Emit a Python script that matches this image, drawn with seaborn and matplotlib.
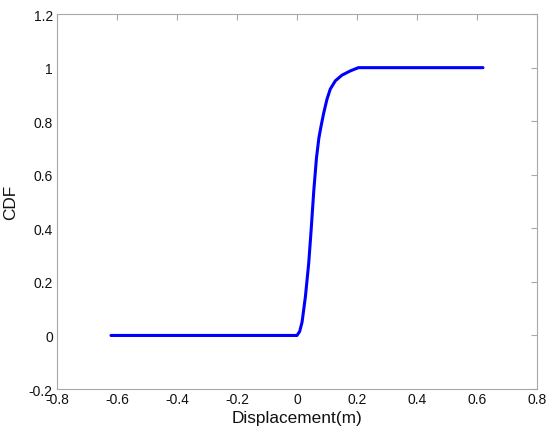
import matplotlib
matplotlib.use("Agg")
import matplotlib.pyplot as plt
import seaborn as sns
import pandas as pd
from matplotlib.ticker import FuncFormatter

# CDF curve
displacement = [-0.62, 0.0, 0.009, 0.017, 0.028, 0.039, 0.047, 0.056, 0.065, 0.073,
                0.080, 0.089, 0.100, 0.111, 0.128, 0.150, 0.178, 0.205, 0.62]
cdf = [0.0, 0.0, 0.015, 0.05, 0.144, 0.268, 0.39, 0.54, 0.663, 0.737,
       0.78, 0.83, 0.882, 0.920, 0.951, 0.972, 0.988, 1.0, 1.0]

x_ticks = [-0.8, -0.6, -0.4, -0.2, 0, 0.2, 0.4, 0.6, 0.8]
y_ticks = [-0.2, 0, 0.2, 0.4, 0.6, 0.8, 1.0, 1.2]

sns.set_style("white")
plt.rcParams['font.family'] = ['Liberation Sans', 'DejaVu Sans']

df = pd.DataFrame({"Displacement(m)": displacement, "CDF": cdf})

fig = plt.figure(figsize=(5.5, 4.39), dpi=100)
ax = fig.add_axes([0.1036, 0.1116, 0.8727, 0.854])
sns.lineplot(data=df, x="Displacement(m)", y="CDF", ax=ax, color="#0000ff",
             linewidth=2.2, sort=False)

ax.set_xlim(-0.8, 0.8)
ax.set_ylim(-0.2, 1.2)
ax.set_xticks(x_ticks)
ax.set_yticks(y_ticks)
fmt = FuncFormatter(lambda v, p: f"{v:g}")
ax.xaxis.set_major_formatter(fmt)
ax.yaxis.set_major_formatter(fmt)

for s in ax.spines.values():
    s.set_color("#a8a8a8")
    s.set_linewidth(0.8)
ax.tick_params(direction="in", length=4, width=0.8, color="#a8a8a8",
               top=True, right=True, labelsize=10, labelcolor="#111111", pad=3)
ax.tick_params(axis="x", pad=2)
ax.set_xlabel("Displacement(m)", fontsize=12.4, color="#111111", labelpad=3)
ax.set_ylabel("CDF", fontsize=12.4, color="#111111", labelpad=8)

fig.savefig("out.png", dpi=100)
